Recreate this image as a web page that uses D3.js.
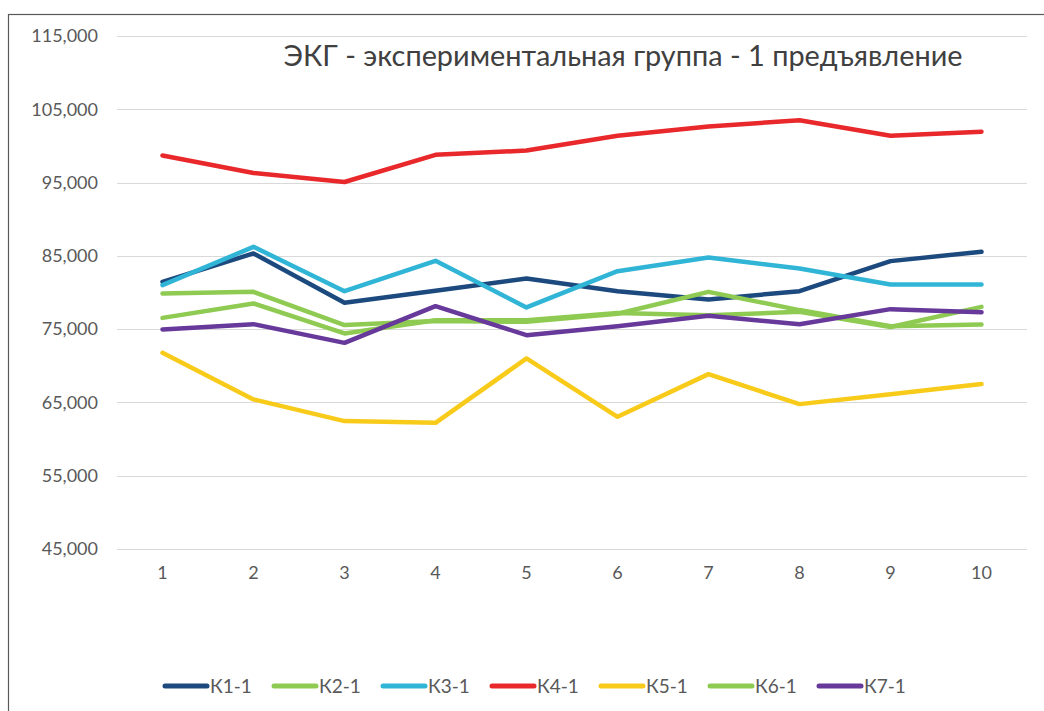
<!DOCTYPE html>
<html lang="ru">
<head>
    <meta charset="UTF-8">
    <title>ЭКГ</title>
    <script src="https://cdnjs.cloudflare.com/ajax/libs/d3/7.8.5/d3.min.js"></script>
    <style>
        body { margin: 0; background: #fff; }
        text { font-family: Lato, "Open Sans", sans-serif; }
    </style>
</head>
<body>
<script>
    // данные
    var categories = ["1", "2", "3", "4", "5", "6", "7", "8", "9", "10"];
    var seriesNames = ["К1-1", "К2-1", "К3-1", "К4-1", "К5-1", "К6-1", "К7-1"];
    var k1 = [81450, 85330, 78590, 80230, 81920, 80180, 79050, 80180, 84280, 85550];
    var k2 = [79870, 80090, 75550, 76100, 76000, 77100, 80090, 77600, 75400, 75640];
    var k3 = [81000, 86230, 80180, 84320, 77960, 82910, 84780, 83280, 81100, 81100];
    var k4 = [98690, 96300, 95080, 98780, 99365, 101390, 102650, 103510, 101390, 101930];
    var k5 = [71770, 65410, 62450, 62220, 71000, 63040, 68860, 64770, 66130, 67500];
    var k6 = [76540, 78500, 74410, 76200, 76200, 77200, 76900, 77360, 75300, 78040];
    var k7 = [74960, 75680, 73130, 78140, 74180, 75410, 76820, 75680, 77730, 77320];
    var yTicks = [45000, 55000, 65000, 75000, 85000, 95000, 105000, 115000];
    var colors = ["#1c4a7e", "#8fcb52", "#31b5d6", "#e8282b", "#f8cb1a", "#8fcb52", "#67399a"];
    var title = "ЭКГ - экспериментальная группа - 1 предъявление";

    var series = [k1, k2, k3, k4, k5, k6, k7];

    var W = 1044, H = 711;
    var svg = d3.select("body").append("svg").attr("width", W).attr("height", H);

    // рамка
    svg.append("rect").attr("x", 8.5).attr("y", 14.5).attr("width", 1200).attr("height", 900)
        .attr("fill", "none").attr("stroke", "#595959").attr("stroke-width", 1.2);

    var x = d3.scaleBand().domain(categories).range([117, 1027]);
    var y = d3.scaleLinear().domain([45000, 115000]).range([549, 36]);

    // сетка
    svg.append("g").selectAll("line").data(yTicks).enter().append("line")
        .attr("x1", 117).attr("x2", 1027)
        .attr("y1", function (d) { return Math.round(y(d)) + 0.5; })
        .attr("y2", function (d) { return Math.round(y(d)) + 0.5; })
        .attr("stroke", "#d9d9d9").attr("stroke-width", 1);

    var yAxis = svg.append("g").attr("transform", "translate(105,0)")
        .call(d3.axisLeft(y).tickValues(yTicks).tickFormat(d3.format(",")).tickSize(0).tickPadding(7));
    yAxis.select(".domain").remove();
    yAxis.selectAll("text").attr("fill", "#595959").style("font-size", "18px");

    var xAxis = svg.append("g").attr("transform", "translate(0,566)")
        .call(d3.axisBottom(x).tickSize(0).tickPadding(0));
    xAxis.select(".domain").remove();
    xAxis.selectAll("text").attr("fill", "#595959").style("font-size", "18px");

    // линии
    var line = d3.line()
        .x(function (d, i) { return x(categories[i]) + x.bandwidth() / 2; })
        .y(function (d) { return y(d); });

    svg.append("g").selectAll("path").data(series).enter().append("path")
        .attr("d", line)
        .attr("fill", "none")
        .attr("stroke", function (d, i) { return colors[i]; })
        .attr("stroke-width", 4.5)
        .attr("stroke-linejoin", "round")
        .attr("stroke-linecap", "round");

    // заголовок
    var t = svg.append("text").attr("x", 623).attr("y", 66).attr("text-anchor", "middle")
        .attr("fill", "#404040").style("font-size", "25px").text(title);
    var tw = t.node().getComputedTextLength();
    t.style("font-size", (25 * 679 / tw).toFixed(2) + "px");

    // легенда
    var leg = svg.append("g").selectAll("g").data(seriesNames).enter().append("g")
        .attr("transform", function (d, i) { return "translate(" + (163 + i * 109) + ",686)"; });
    leg.append("line").attr("x1", 2).attr("x2", 44).attr("y1", 0).attr("y2", 0)
        .attr("stroke", function (d, i) { return colors[i]; })
        .attr("stroke-width", 5).attr("stroke-linecap", "round");
    leg.append("text").attr("x", 47).attr("y", 7).attr("fill", "#595959")
        .style("font-size", "19px").text(function (d) { return d; });
</script>
</body>
</html>
